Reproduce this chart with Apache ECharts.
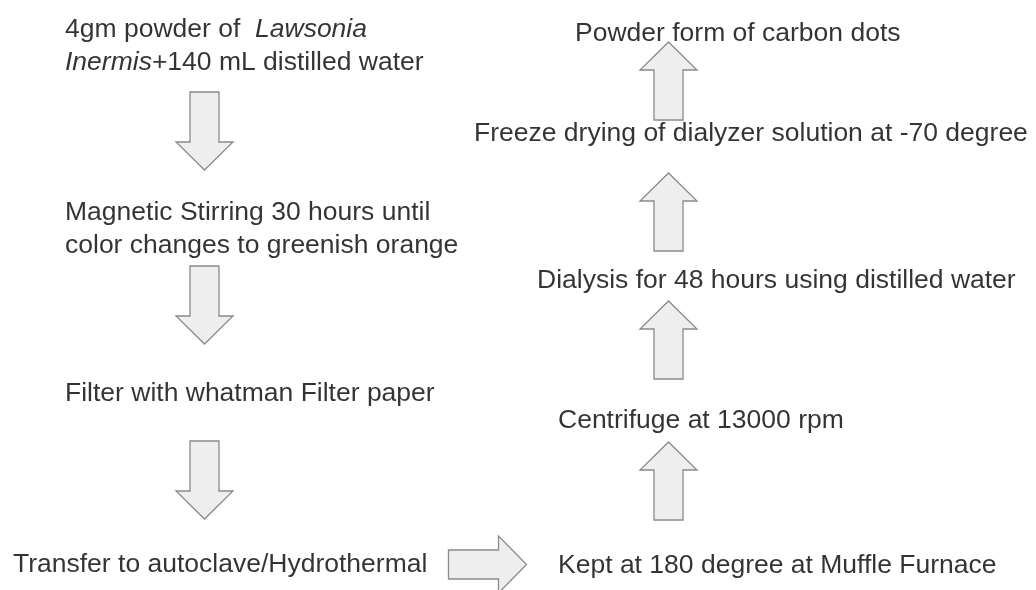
<!DOCTYPE html>
<html>
<head>
<meta charset="utf-8">
<title>Carbon dots synthesis flow</title>
<script src="https://cdn.jsdelivr.net/npm/echarts@6/dist/echarts.min.js"></script>
<style>
  html, body { margin: 0; padding: 0; background: #fff; }
  .chart { width: 1036px; height: 590px; }
</style>
</head>
<body>
<div class="flow"><div class="chart"></div></div>
<script>
// step texts, in process order
var stepLabels = [
    "4gm powder of  {i|Lawsonia}\n{i|Inermis}+140 mL distilled water",
    "Magnetic Stirring 30 hours until\ncolor changes to greenish orange",
    "Filter with whatman Filter paper",
    "Transfer to autoclave/Hydrothermal",
    "Kept at 180 degree at Muffle Furnace",
    "Centrifuge at 13000 rpm",
    "Dialysis for 48 hours using distilled water",
    "Freeze drying of dialyzer solution at -70 degree",
    "Powder form of carbon dots"
];
// where each step sits on the page (left edge, middle)
var stepX = [65, 65, 65, 13, 558, 558, 537, 474, 575];
var stepY = [46, 229, 394, 565, 566, 421, 281, 134, 34];

// block arrows between steps: centre and direction
var arrowX = [204.5, 204.5, 204.5, 487.5, 668.5, 668.5, 668.5, 668.5];
var arrowY = [131, 305, 480, 564.5, 481, 340, 212, 81];
var arrowDir = ["down", "down", "down", "right", "up", "up", "up", "up"];

(function () {
    var myChart = echarts.init(document.querySelector(".flow .chart"));

    var font = "'Liberation Sans', Arial, sans-serif";
    var dirVec = { down: [0, 1], up: [0, -1], right: [1, 0] };

    // arrow outline, along the arrow (u) and across it (v)
    var arrowShape = [[-39, -14.5], [11, -14.5], [11, -28.5], [39, 0], [11, 28.5], [11, 14.5], [-39, 14.5]];

    var textData = stepLabels.map(function (t, i) {
        return { value: [stepX[i], stepY[i]], name: t };
    });
    var arrowData = arrowDir.map(function (d, i) {
        return [arrowX[i], arrowY[i], i];
    });

    var option = {
        animation: false,
        grid: { left: 0, right: 0, top: 0, bottom: 0 },
        xAxis: { type: "value", min: 0, max: 1036, show: false },
        yAxis: { type: "value", min: 0, max: 590, inverse: true, show: false },
        series: [
            {
                name: "arrows",
                type: "custom",
                clip: false,
                data: arrowData,
                renderItem: function (params, api) {
                    var c = api.coord([api.value(0), api.value(1)]);
                    var d = dirVec[arrowDir[api.value(2)]];
                    var pts = arrowShape.map(function (p) {
                        // u along d, v along perpendicular
                        return [c[0] + p[0] * d[0] - p[1] * d[1], c[1] + p[0] * d[1] + p[1] * d[0]];
                    });
                    return {
                        type: "polygon",
                        shape: { points: pts },
                        style: { fill: "#eeeeee", stroke: "#8a8a8a", lineWidth: 1.3 }
                    };
                }
            },
            {
                name: "steps",
                type: "scatter",
                symbolSize: 0,
                data: textData,
                label: {
                    show: true,
                    position: [0, 0],
                    align: "left",
                    verticalAlign: "middle",
                    formatter: function (p) { return p.name; },
                    color: "#000",
                    textBorderWidth: 0,
                    fontFamily: font,
                    fontSize: 26.5,
                    lineHeight: 33,
                    rich: {
                        i: { fontStyle: "italic", color: "#000", textBorderWidth: 0, fontFamily: font, fontSize: 26.5, lineHeight: 33 }
                    }
                }
            }
        ]
    };
    myChart.setOption(option);
    window.addEventListener("resize", function () {
        myChart.resize();
    });
})();
</script>
</body>
</html>
